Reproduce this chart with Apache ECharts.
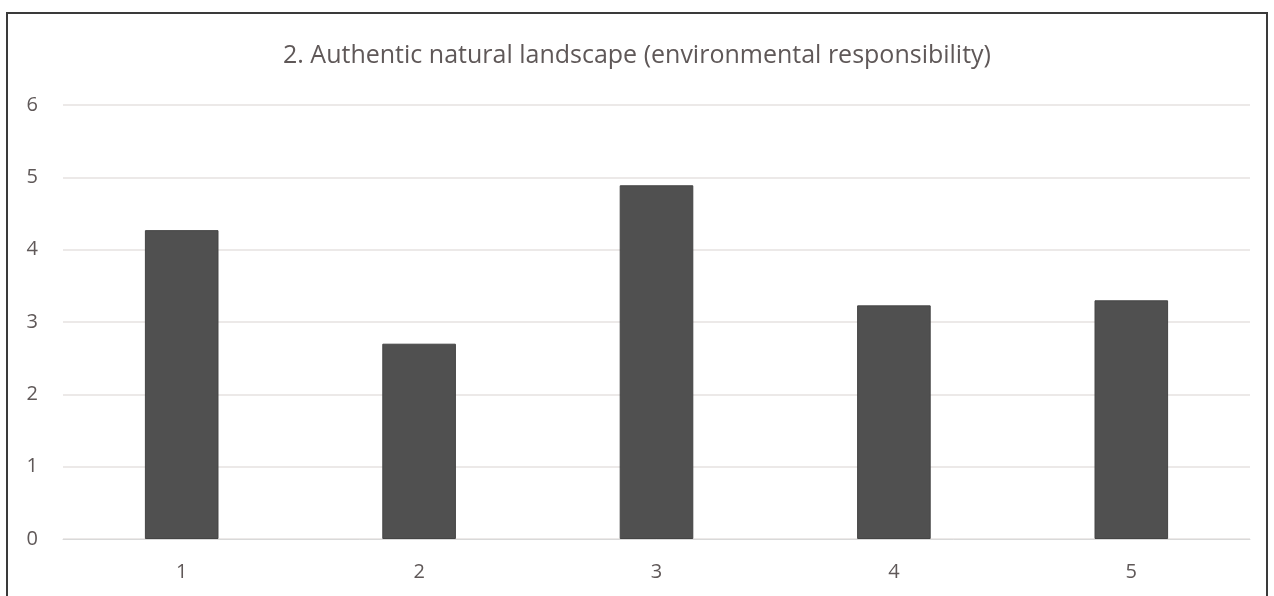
<!DOCTYPE html>
<html>
<head>
<meta charset="utf-8">
<script src="https://cdn.jsdelivr.net/npm/echarts@6/dist/echarts.min.js"></script>
<style>
  html, body { margin: 0; padding: 0; background: #fff; }
  #frame { position: absolute; left: 6px; top: 12px; width: 1262px; height: 600px;
           border: 2px solid #3a3a3a; border-bottom: none; box-sizing: border-box; }
  #chart { position: absolute; left: 0; top: 0; width: 1274px; height: 596px; }
</style>
</head>
<body>
<div id="frame"></div>
<div id="chart"></div>
<script>
// Mean score per item, theme 2
const titleText = '2. Authentic natural landscape (environmental responsibility)';
const categories = ['1', '2', '3', '4', '5'];
const scores = [4.27, 2.70, 4.89, 3.23, 3.30];
const yTicks = [0, 1, 2, 3, 4, 5, 6];

const font = '"Open Sans", "Noto Sans", sans-serif';
const chart = echarts.init(document.getElementById('chart'), null, { renderer: 'canvas' });
chart.setOption({
  backgroundColor: 'transparent',
  animation: false,
  title: {
    text: titleText,
    left: 'center',
    top: 38,
    textStyle: { fontFamily: font, fontSize: 25, fontWeight: 'normal', color: '#5f5858' }
  },
  grid: { left: 63, right: 24, top: 105, bottom: 57, containLabel: false },
  xAxis: {
    type: 'category',
    data: categories,
    axisLine: { show: true, lineStyle: { color: '#d9d9d9', width: 1 } },
    axisTick: { show: false },
    axisLabel: { fontFamily: font, fontSize: 20, color: '#5f5858', margin: 23 }
  },
  yAxis: {
    type: 'value',
    min: yTicks[0],
    max: yTicks[yTicks.length - 1],
    interval: 1,
    axisLine: { show: false },
    axisTick: { show: false },
    axisLabel: { fontFamily: font, fontSize: 20, color: '#5f5858', margin: 25 },
    splitLine: { lineStyle: { color: '#e6e2e0', width: 1.5 } }
  },
  series: [{
    type: 'bar',
    data: scores,
    barWidth: '31%',
    itemStyle: { color: '#505050', borderColor: '#444', borderWidth: 1 }
  }]
});
</script>
</body>
</html>
